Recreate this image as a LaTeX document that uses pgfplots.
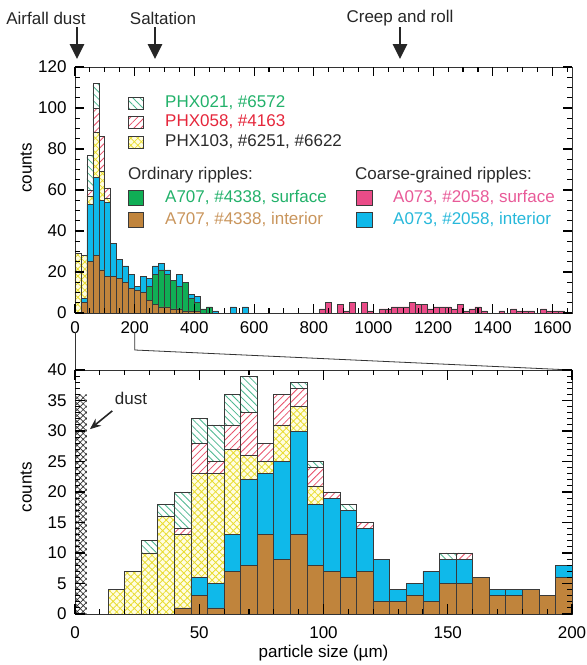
\documentclass[border=0pt]{standalone}
\usepackage{fontspec}
\setmainfont{Liberation Sans}
\usepackage{pgfplots}
\pgfplotsset{compat=1.18}
\usepackage{pgfplotstable}
\usetikzlibrary{patterns.meta, arrows.meta}

\definecolor{cbrown}{HTML}{C0843C}
\definecolor{cblue}{HTML}{0FB9EA}
\definecolor{cgreen}{HTML}{10AE55}
\definecolor{cpink}{HTML}{EA4C88}
\definecolor{cyel}{HTML}{E8DC30}
\definecolor{cyelbg}{HTML}{FFFDE2}
\definecolor{cred}{HTML}{E8506A}
\definecolor{cgh}{HTML}{4DB890}
\definecolor{edge}{HTML}{3A3A3A}
\definecolor{tgreen}{HTML}{22B16A}
\definecolor{tred}{HTML}{E5263B}
\definecolor{tbrown}{HTML}{C9955C}
\definecolor{tpink}{HTML}{E85A98}
\definecolor{tcyan}{HTML}{27B8DA}
\definecolor{tgray}{HTML}{2B2B2B}

\newcommand\fs{\fontsize{17}{20}\selectfont}

% top panel, 20 um bins (bin centres); all-zero bins left out
\pgfplotstableread{
x    bi gs bl pk y  r  gh
10   0  0  0  0  29 0  0
30   5  0  2  0  21 0  0
50   25 0  28 0  4  3  17
70   28 0  38 0  22 12 12
90   21 0  34 0  14 17 0
110  18 0  36 0  2  5  0
130  18 0  16 0  0  0  0
150  17 0  9  0  0  0  0
170  15 0  8  0  0  0  0
190  12 0  7  0  0  0  0
210  11 0  2  0  0  0  0
230  10 0  8  0  0  0  0
250  6  7  4  0  0  0  0
270  4  15 4  0  0  0  0
290  3  18 3  0  0  0  0
310  3  16 2  0  0  0  0
330  2  14 0  0  0  0  0
350  2  11 6  0  0  0  0
370  1  14 0  0  0  0  0
390  1  6  2  0  0  0  0
410  1  4  3  0  0  0  0
430  0  2  0  0  0  0  0
450  0  3  0  0  0  0  0
470  0  0  1  0  0  0  0
530  0  0  3  0  0  0  0
570  0  0  3  0  0  0  0
830  0  0  0  2  0  0  0
850  0  0  0  5  0  0  0
890  0  0  0  4  0  0  0
910  0  0  0  1  0  0  0
930  0  0  0  5  0  0  0
970  0  0  0  5  0  0  0
990  0  0  0  1  0  0  0
1030 0  0  0  2  0  0  0
1050 0  0  0  2  0  0  0
1070 0  0  0  3  0  0  0
1090 0  0  0  3  0  0  0
1110 0  0  0  3  0  0  0
1130 0  0  0  5  0  0  0
1150 0  0  0  4  0  0  0
1170 0  0  0  4  0  0  0
1190 0  0  0  2  0  0  0
1210 0  0  0  3  0  0  0
1230 0  0  0  3  0  0  0
1250 0  0  0  3  0  0  0
1270 0  0  0  2  0  0  0
1290 0  0  0  4  0  0  0
1310 0  0  0  1  0  0  0
1330 0  0  0  2  0  0  0
1350 0  0  0  3  0  0  0
1370 0  0  0  1  0  0  0
1430 0  0  0  1  0  0  0
1470 0  0  0  2  0  0  0
1490 0  0  0  1  0  0  0
1510 0  0  0  1  0  0  0
1530 0  0  0  1  0  0  0
1570 0  0  0  2  0  0  0
1590 0  0  0  1  0  0  0
1610 0  0  0  1  0  0  0
1630 0  0  0  1  0  0  0
}\toptab

% bottom panel, 200/30 um bins
\pgfplotstableread{
x       bi bl y  r gh
16.667  0  0  4  0 0
23.333  0  0  7  0 0
30.000  0  0  10 0 2
36.667  0  0  16 0 2
43.333  1  0  12 1 6
50.000  3  3  17 5 4
56.667  1  4  18 2 6
63.333  7  6  14 4 5
70.000  8  14 4  7 6
76.667  13 10 2  3 0
83.333  9  16 6  5 0
90.000  13 17 4  3 1
96.667  8  10 3  3 1
103.333 7  12 0  1 0
110.000 6  11 0  0 1
116.667 7  7  0  1 0
123.333 2  7  0  0 0
130.000 2  2  0  0 0
136.667 3  2  0  0 0
143.333 2  5  0  0 0
150.000 5  4  0  0 1
156.667 5  4  0  1 0
163.333 6  0  0  0 0
170.000 3  1  0  0 0
176.667 3  1  0  0 0
183.333 4  0  0  0 0
190.000 3  0  0  0 0
196.667 6  2  0  0 0
}\bottab

\tikzset{
  sol/.style={fill=#1, draw=edge, line width=0.7pt},
  ghat/.style={draw=edge, line width=0.7pt, preaction={fill=white},
    pattern={Lines[angle=-45,distance=5pt,line width=0.8pt]}, pattern color=cgh},
  rhat/.style={draw=edge, line width=0.7pt, preaction={fill=white},
    pattern={Lines[angle=45,distance=5pt,line width=0.8pt]}, pattern color=cred},
  ycross/.style={draw=edge, line width=0.7pt, preaction={fill=cyelbg},
    pattern={Hatch[angle=45,distance=5pt,line width=0.8pt]}, pattern color=cyel},
  tk/.style={draw=black, line width=1.1pt},
}

\pgfplotsset{
  bars/.style={scale only axis, width=497pt, ybar stacked, hide axis},
  frame/.style={
    scale only axis, width=497pt,
    major tick length=0pt, minor tick length=0pt,
    axis line style={draw=black!80, line width=0.9pt},
    ticklabel style={font=\fs},
    yticklabel style={xshift=-5pt},
    label style={font=\fs},
    /pgf/number format/assume math mode=true,
    /pgf/number format/1000 sep={},
  },
  top/.style={at={(0pt,0pt)}, anchor=south west, height=246pt,
    xmin=0, xmax=1665, ymin=0, ymax=120},
  bot/.style={at={(0pt,-57pt)}, anchor=north west, height=244pt,
    xmin=0, xmax=200, ymin=0, ymax=40},
}

\begin{document}
\begin{tikzpicture}
\useasboundingbox (-75pt,-352pt) rectangle (512pt,313pt);

% ---- upper panel: bars
\begin{axis}[bars, top, bar width=20]
\addplot[sol=cbrown] table[x=x,y=bi]{\toptab};
\addplot[sol=cgreen] table[x=x,y=gs]{\toptab};
\addplot[sol=cblue] table[x=x,y=bl]{\toptab};
\addplot[sol=cpink] table[x=x,y=pk]{\toptab};
\addplot[ycross] table[x=x,y=y]{\toptab};
\addplot[rhat] table[x=x,y=r]{\toptab};
\addplot[ghat] table[x=x,y=gh]{\toptab};
\end{axis}
% ---- upper panel: frame and labels
\begin{axis}[frame, top,
  xtick={0,200,...,1600}, ytick={0,20,...,120},
  xticklabel style={yshift=-5pt},
  ylabel={counts},
  ylabel style={at={(axis description cs:-0.08,0.59)}, anchor=south},
]
\end{axis}
% inward ticks, upper panel (box 497pt x 246pt; 50 um = 14.9249pt, 5 counts = 10.25pt)
\foreach \i in {0,...,33}{
  \pgfmathsetmacro\xx{\i*14.9249}
  \pgfmathsetmacro\len{mod(\i,4)==0 ? 9 : 5}
  \draw[tk] (\xx pt,0pt) -- ++(0,\len pt) (\xx pt,246pt) -- ++(0,-\len pt);
}
\foreach \j in {0,...,24}{
  \pgfmathsetmacro\yy{\j*10.25}
  \pgfmathsetmacro\len{mod(\j,4)==0 ? 9 : 5}
  \draw[tk] (0pt,\yy pt) -- ++(\len pt,0) (497pt,\yy pt) -- ++(-\len pt,0);
}

% arrows and process labels
\foreach \px/\lab/\lx in {2/Airfall dust/-29, 80/Saltation/88, 325/Creep and roll/325}{
  \node[font=\fs, text=black!85] at (\lx pt,295pt) {\lab};
  \draw[-{Triangle[width=14pt,length=15pt]}, line width=2.8pt, black!85]
    (\px pt,286pt) -- (\px pt,254pt);
}

% legend
\begin{scope}[line width=0.7pt]
  \draw[ghat] (53pt,204pt) rectangle (68pt,216pt);
  \draw[rhat] (53pt,185pt) rectangle (68pt,197pt);
  \draw[ycross] (53pt,165pt) rectangle (68pt,177pt);
  \draw[sol=cgreen] (53pt,108pt) rectangle (68pt,123pt);
  \draw[sol=cbrown] (53pt,86pt) rectangle (68pt,101pt);
  \draw[sol=cpink] (281pt,108pt) rectangle (297pt,123pt);
  \draw[sol=cblue] (281pt,86pt) rectangle (297pt,101pt);
\end{scope}
\begin{scope}[every node/.style={font=\fs, anchor=west, inner sep=0pt}]
  \node[text=tgreen] at (90pt,210pt) {PHX021, \#6572};
  \node[text=tred] at (90pt,191pt) {PHX058, \#4163};
  \node[text=tgray] at (90pt,171pt) {PHX103, \#6251, \#6622};
  \node[text=tgray] at (53pt,138pt) {Ordinary ripples:};
  \node[text=tgreen] at (90pt,115.5pt) {A707, \#4338, surface};
  \node[text=tbrown] at (90pt,93.5pt) {A707, \#4338, interior};
  \node[text=tgray] at (280pt,138pt) {Coarse-grained ripples:};
  \node[text=tpink] at (318pt,115.5pt) {A073, \#2058, surface};
  \node[text=tcyan] at (318pt,93.5pt) {A073, \#2058, interior};
\end{scope}

% zoom connectors
\draw[black!80, line width=0.8pt] (0pt,-19pt) -- (0pt,-57pt);
\draw[black!80, line width=0.8pt] (59.7pt,-19pt) -- (59.7pt,-37pt) -- (497pt,-57pt);

% ---- lower panel: dust column and note
\begin{axis}[scale only axis, width=497pt, bot, hide axis, clip=false]
\addplot[draw=none, pattern={Hatch[angle=45,distance=4.2pt,line width=0.7pt]},
  pattern color=black!80] coordinates {(0.3,0) (0.3,36) (4.8,36) (4.8,0)} \closedcycle;
\node[font=\fs, text=black!85] at (axis cs:22.5,35.4) {dust};
\draw[-{Stealth[length=11pt,width=9pt]}, line width=1.6pt, black!85]
  (axis cs:15,33.3) -- (axis cs:6,30.3);
\end{axis}

% ---- lower panel: bars
\begin{axis}[bars, bot, bar width=6.6667]
\addplot[sol=cbrown] table[x=x,y=bi]{\bottab};
\addplot[sol=cblue] table[x=x,y=bl]{\bottab};
\addplot[ycross] table[x=x,y=y]{\bottab};
\addplot[rhat] table[x=x,y=r]{\bottab};
\addplot[ghat] table[x=x,y=gh]{\bottab};
\end{axis}
% ---- lower panel: frame and labels
\begin{axis}[frame, bot,
  xtick={0,50,...,200}, ytick={0,5,...,40},
  xticklabel style={yshift=-9pt},
  xlabel={particle size (µm)},
  ylabel={counts},
  ylabel style={at={(axis description cs:-0.08,0.52)}, anchor=south},
]
\end{axis}
% inward ticks, lower panel (box from y=-301pt to -57pt; 10 um = 24.85pt, 1 count = 6.1pt)
\foreach \i in {0,...,20}{
  \pgfmathsetmacro\xx{\i*24.85}
  \pgfmathsetmacro\len{mod(\i,5)==0 ? 10 : 5}
  \draw[tk] (\xx pt,-301pt) -- ++(0,\len pt) (\xx pt,-57pt) -- ++(0,-\len pt);
}
\foreach \j in {0,...,40}{
  \pgfmathsetmacro\yy{-301+\j*6.1}
  \pgfmathsetmacro\len{mod(\j,5)==0 ? 10 : 5}
  \draw[tk] (0pt,\yy pt) -- ++(\len pt,0) (497pt,\yy pt) -- ++(-\len pt,0);
}
\end{tikzpicture}
\end{document}
